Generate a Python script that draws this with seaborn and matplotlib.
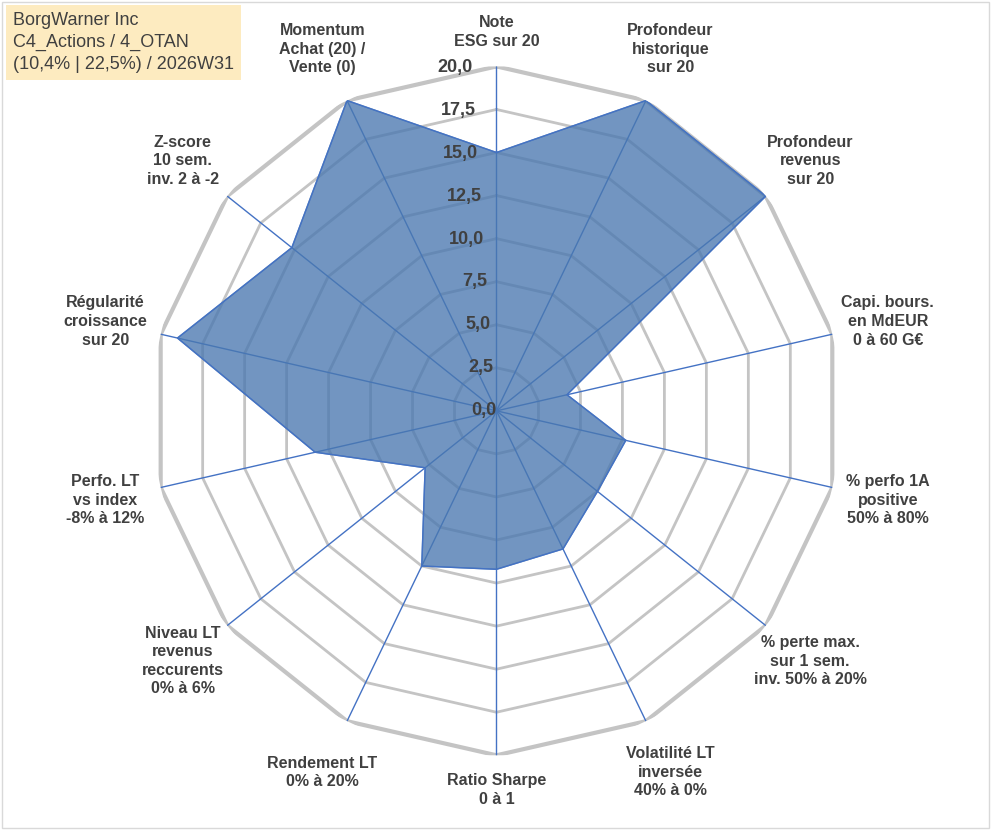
import numpy as np
import matplotlib
matplotlib.use("Agg")
import matplotlib.pyplot as plt
import seaborn as sns

sns.set_style("white")
plt.rcParams['font.family'] = ['Liberation Sans', 'DejaVu Sans']

labels = ["Note\nESG sur 20", "Profondeur\nhistorique\nsur 20", "Profondeur\nrevenus\nsur 20",
          "Capi. bours.\nen MdEUR\n0 à 60 G€", "% perfo 1A\npositive\n50% à 80%",
          "% perte max.\nsur 1 sem.\ninv. 50% à 20%", "Volatilité LT\ninversée\n40% à 0%",
          "Ratio Sharpe\n0 à 1", "Rendement LT\n0% à 20%", "Niveau LT\nrevenus\nreccurents\n0% à 6%",
          "Perfo. LT\nvs index\n-8% à 12%", "Régularité\ncroissance\nsur 20",
          "Z-score\n10 sem.\ninv. 2 à -2", "Momentum\nAchat (20) /\nVente (0)"]
values = [15.0, 20.0, 20.0, 4.2, 7.7, 7.5, 8.9, 9.2, 10.0, 5.3, 10.8, 19.0, 15.2, 20.0]
rings = [2.5, 5.0, 7.5, 10.0, 12.5, 15.0, 17.5, 20.0]

n = len(labels)
ang = np.linspace(0, 2 * np.pi, n, endpoint=False)
angc = np.append(ang, ang[0])

fig = plt.figure(figsize=(9.91, 8.30), dpi=100)
ax = fig.add_axes([0.151, 0.09, 0.70, 0.83], polar=True)
ax.set_theta_zero_location("N")
ax.set_theta_direction(-1)
ax.set_ylim(0, 20)
ax.grid(False)
ax.spines['polar'].set_visible(False)
ax.set_xticks([])
ax.set_yticks([])

for r in rings:
    ax.plot(angc, [r] * (n + 1), color="#c4c4c4", lw=3 if r == 20 else 2.0, zorder=1)
for a in ang:
    ax.plot([a, a], [0, 20], color="#4472c4", lw=1.0, zorder=2)

vc = values + values[:1]
ax.fill(angc, vc, color="#4a78b0", alpha=0.78, zorder=3)
ax.plot(angc, vc, color="#4472c4", lw=1.0, zorder=4)

for r in [0.0] + rings:
    ax.text(-0.07, r, f"{r:.1f}".replace(".", ","), ha="right", va="center",
            fontsize=13, fontweight="bold", color="#404040", zorder=5)

for a, lab in zip(ang, labels):
    s = np.sin(a)
    ax.text(a, 23.3 if abs(s) > 0.1 else 22.0, lab, ha="center", va="center", fontsize=11.5,
            fontweight="bold", color="#404040", linespacing=1.3)

fig.text(0.013, 0.985, "BorgWarner Inc\nC4_Actions / 4_OTAN\n(10,4% | 22,5%) / 2026W31",
         ha="left", va="top", fontsize=13, color="#404040", linespacing=1.35,
         bbox=dict(boxstyle="square,pad=0.4", fc="#fdebc0", ec="none"))

fig.patches.append(plt.Rectangle((0.002, 0.002), 0.996, 0.996, transform=fig.transFigure,
                                 fill=False, ec="#d9d9d9", lw=1))
fig.savefig("out.png", dpi=100)
